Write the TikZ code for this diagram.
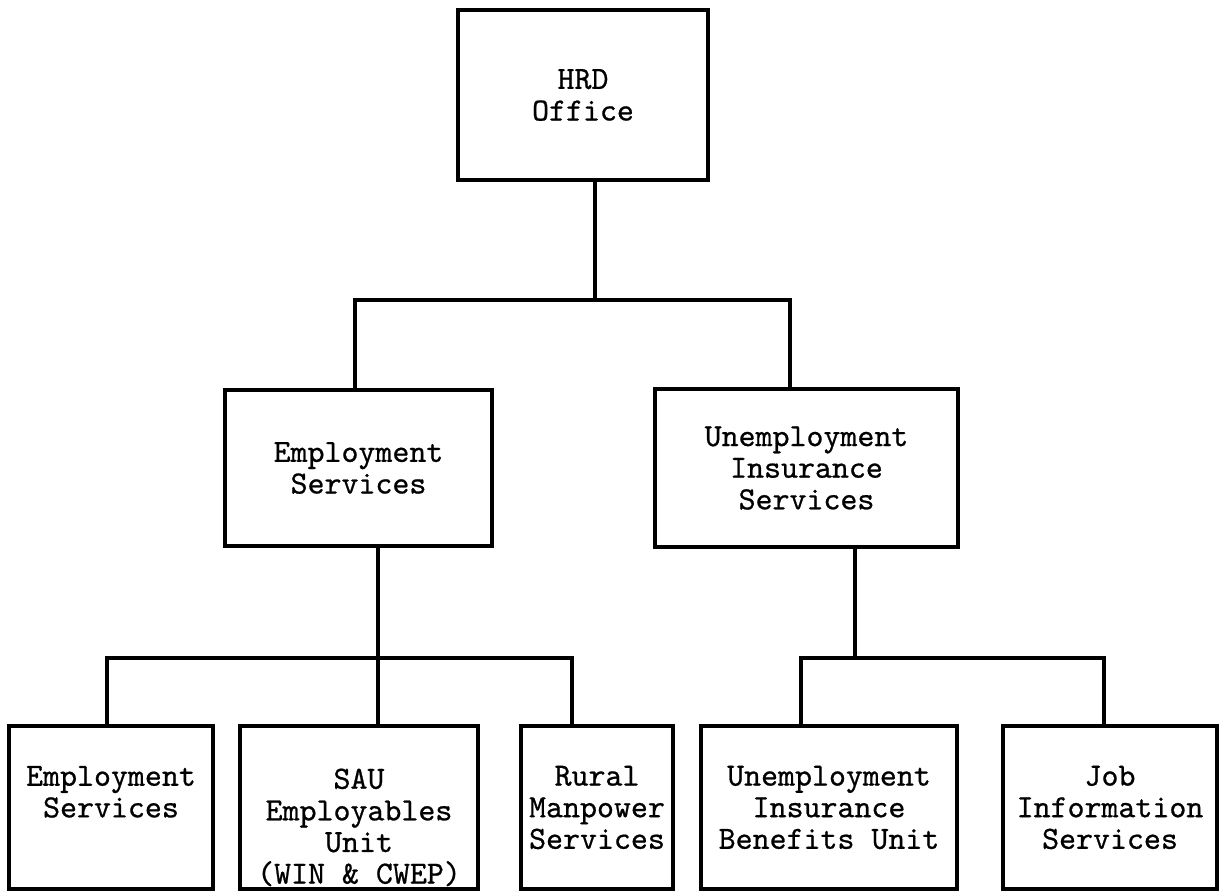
\documentclass[tikz,border=0pt]{standalone}
\usepackage{fontspec}
\newfontfamily\typer{lmmono10-regular}[Extension=.otf, FakeBold=0.7]
\usepackage{tikz}
\usetikzlibrary{positioning}

\begin{document}
\begin{tikzpicture}[
  x=0.02cm, y=-0.02cm,
  unit/.style={rectangle, draw, line width=2.2pt, align=center, inner sep=0pt, font=\typer\fontsize{18.4}{18}\selectfont},
  tie/.style={line width=2.2pt}
]
\useasboundingbox (0,0) rectangle (1220,891);

\node[unit, minimum width=5.0cm, minimum height=3.4cm] (hrd) at (583,95) {HRD\\Office};
\node[unit, minimum width=5.34cm, minimum height=3.12cm] (emp) at (358.5,468) {Employment\\Services};
\node[unit, minimum width=6.06cm, minimum height=3.16cm] (ins) at (806.5,468) {Unemployment\\Insurance\\Services};

\node[unit, minimum width=4.08cm, minimum height=3.26cm] (empsvc) at (111,807.5) {Employment\\Services\\\mbox{}};
\node[unit, minimum width=4.76cm, minimum height=3.26cm] (sau) at (359,807.5) {\rule{0pt}{1.2cm}SAU\\Employables\\Unit\\(WIN \& CWEP)};
\node[unit, minimum width=3.04cm, minimum height=3.26cm] (rural) at (597,807.5) {Rural\\Manpower\\Services};
\node[unit, minimum width=5.12cm, minimum height=3.26cm] (benefit) at (829,807.5) {Unemployment\\Insurance\\Benefits Unit};
\node[unit, minimum width=4.28cm, minimum height=3.26cm] (jobinfo) at (1110,807.5) {Job\\Information\\Services};

% junction points of the tree
\coordinate (top) at (595,300);
\coordinate (topl) at (355,300);
\coordinate (topr) at (790,300);
\coordinate (lowl) at (107,658);
\coordinate (lowm) at (378,658);
\coordinate (lowr) at (572,658);
\coordinate (insl) at (801,658);
\coordinate (insm) at (855,658);
\coordinate (insr) at (1104,658);

\draw[tie] (hrd.south -| top) -- (top);
\draw[tie] (emp.north -| topl) -- (topl) -- (topr) -- (ins.north -| topr);

\draw[tie] (emp.south -| lowm) -- (lowm) -- (sau.north -| lowm);
\draw[tie] (empsvc.north -| lowl) -- (lowl) -- (lowr) -- (rural.north -| lowr);

\draw[tie] (ins.south -| insm) -- (insm);
\draw[tie] (benefit.north -| insl) -- (insl) -- (insr) -- (jobinfo.north -| insr);
\end{tikzpicture}
\end{document}
